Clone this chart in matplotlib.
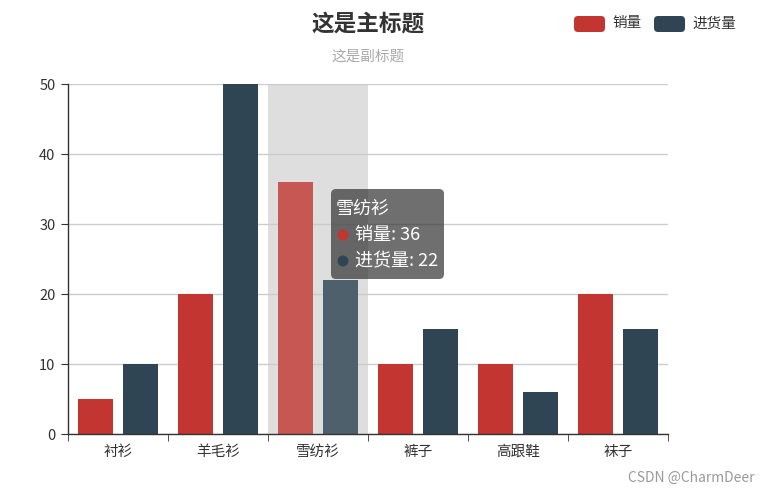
import matplotlib.pyplot as plt
from matplotlib.patches import FancyBboxPatch, Circle
from matplotlib.transforms import IdentityTransform

plt.rcParams['font.family'] = ['Noto Sans CJK SC', 'DejaVu Sans']

categories = ['衬衫', '羊毛衫', '雪纺衫', '裤子', '高跟鞋', '袜子']
sales = [5, 20, 36, 10, 10, 20]
stock = [10, 50, 22, 15, 6, 15]
hover_idx = 2

RED, DARK = '#c23531', '#2f4554'
RED_HI, DARK_HI = '#c65753', '#4f606d'

W, H = 769, 493
fig = plt.figure(figsize=(W / 100, H / 100), dpi=100)
ax = fig.add_axes([68 / W, (H - 434) / H, 600 / W, 350 / H])


def disp(x, y):
    # pixel coords from top-left -> display coords
    return x, H - y


def fx(x, y):
    return x / W, 1 - y / H


ax.axvspan(hover_idx - 0.5, hover_idx + 0.5, color='#dedede', zorder=0, lw=0)

xs = list(range(len(categories)))
c_sales = [RED_HI if i == hover_idx else RED for i in xs]
c_stock = [DARK_HI if i == hover_idx else DARK for i in xs]
ax.bar([x - 0.225 for x in xs], sales, width=0.35, color=c_sales, zorder=2)
ax.bar([x + 0.225 for x in xs], stock, width=0.35, color=c_stock, zorder=2)

ax.set_xlim(-0.5, len(categories) - 0.5)
ax.set_ylim(0, 50)
ax.set_yticks(range(0, 51, 10))
ax.yaxis.grid(True, color='#cccccc', lw=1, zorder=1)
ax.set_axisbelow(True)

ax.set_xticks(xs)
ax.set_xticklabels(categories)
ax.set_xticks([x - 0.5 for x in range(len(categories) + 1)], minor=True)
ax.tick_params(axis='x', which='major', length=0, pad=8, labelsize=10.5, labelcolor='#333333')
ax.tick_params(axis='x', which='minor', length=5, color='#333333', direction='out')
ax.tick_params(axis='y', length=5, color='#333333', labelsize=10.5, labelcolor='#333333', pad=4)

for s in ['top', 'right']:
    ax.spines[s].set_visible(False)
for s in ['left', 'bottom']:
    ax.spines[s].set_color('#333333')
    ax.spines[s].set_linewidth(1)

# titles
fig.text(*fx(368, 24), '这是主标题', ha='center', va='center', fontsize=16.3, fontweight='bold', color='#333333')
fig.text(*fx(368, 57), '这是副标题', ha='center', va='center', fontsize=10.5, color='#aaaaaa')

# legend
legend = [('销量', RED, 574, 612), ('进货量', DARK, 654, 692)]
for label, col, rx, tx in legend:
    x0, y0 = disp(rx, 32)
    fig.add_artist(FancyBboxPatch((x0, y0), 31, 16, boxstyle='round,pad=0,rounding_size=4',
                                  transform=IdentityTransform(), facecolor=col, edgecolor='none'))
    fig.text(*fx(tx, 23.5), label, ha='left', va='center', fontsize=10.5, color='#333333')

# tooltip
bx, by = disp(331, 279)
fig.add_artist(FancyBboxPatch((bx, by), 113, 90, boxstyle='round,pad=0,rounding_size=5',
                              transform=IdentityTransform(), facecolor='#323232', alpha=0.7,
                              edgecolor='none', zorder=5))
fig.text(*fx(336, 209), categories[hover_idx], ha='left', va='center', fontsize=13, color='white', zorder=6)
rows = [('销量', sales[hover_idx], RED, 235), ('进货量', stock[hover_idx], DARK, 261)]
for name, val, col, yy in rows:
    fig.add_artist(Circle(disp(343, yy), 5.5, transform=IdentityTransform(), facecolor=col,
                          edgecolor='none', zorder=6))
    fig.text(*fx(355, yy), f'{name}: {val}', ha='left', va='center', fontsize=13, color='white', zorder=6)

# watermark
fig.text(*fx(755, 478), 'CSDN @CharmDeer', ha='right', va='center', fontsize=10, color='#999999')

fig.savefig('out.png', dpi=100)
